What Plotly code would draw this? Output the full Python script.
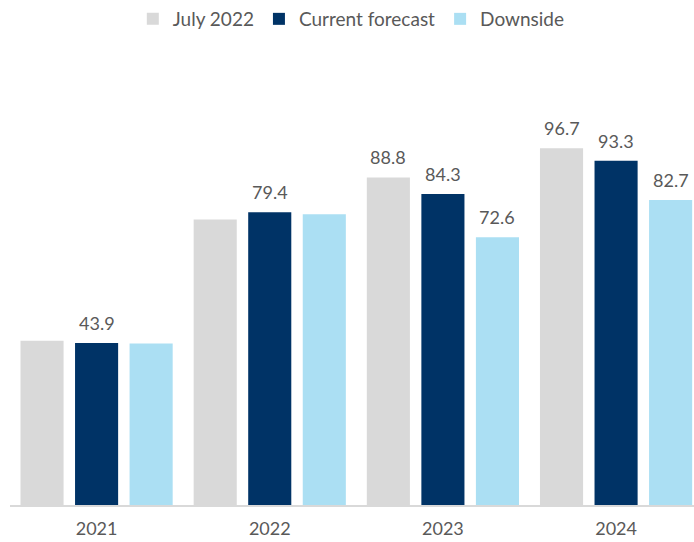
import plotly.graph_objects as go

years = ["2021", "2022", "2023", "2024"]
july_2022 = [44.5, 77.4, 88.8, 96.7]
current_forecast = [43.9, 79.4, 84.3, 93.3]
downside = [43.8, 78.8, 72.6, 82.7]

july_labels = ["", "", "88.8", "96.7"]
current_labels = ["43.9", "79.4", "84.3", "93.3"]
downside_labels = ["", "", "72.6", "82.7"]

series = [
    ("July 2022", july_2022, july_labels, "#d9d9d9"),
    ("Current forecast", current_forecast, current_labels, "#003366"),
    ("Downside", downside, downside_labels, "#abdff3"),
]

FONT = "Lato, Noto Sans, sans-serif"
TXT = "#595959"
bargap = 0.055

fig = go.Figure()
annotations = []
n = len(series)
slot = (1 - bargap) / n
for i, (name, vals, labels, color) in enumerate(series):
    fig.add_trace(go.Bar(
        name=name, x=list(range(len(years))), y=vals,
        marker=dict(color=color, line=dict(width=0)),
        hoverinfo="skip",
    ))
    offset = (i - (n - 1) / 2) * slot
    for j, (v, lab) in enumerate(zip(vals, labels)):
        if lab:
            annotations.append(dict(
                x=j + offset, y=v, xref="x", yref="y", text=lab,
                showarrow=False, yanchor="bottom", xanchor="center",
                yshift=7, font=dict(family=FONT, size=18, color=TXT),
            ))

fig.update_layout(
    width=694, height=542,
    margin=dict(l=10, r=0, t=55, b=37, pad=0),
    barmode="group", bargap=bargap, bargroupgap=0.21,
    plot_bgcolor="white", paper_bgcolor="white",
    font=dict(family=FONT, size=18, color=TXT),
    showlegend=True,
    legend=dict(
        orientation="h", x=0.499, xanchor="center", y=1.0, yanchor="top",
        yref="container", font=dict(family=FONT, size=19, color=TXT),
        itemwidth=30, traceorder="normal", itemclick=False,
    ),
    annotations=annotations,
    xaxis=dict(
        range=[-0.5, 3.45], tickmode="array",
        tickvals=list(range(len(years))), ticktext=years,
        showgrid=False, zeroline=False, showline=True,
        linecolor="#d9d9d9", linewidth=2, ticks="",
        ticklabelstandoff=6,
        tickfont=dict(family=FONT, size=18, color=TXT),
    ),
    yaxis=dict(range=[0, 122], visible=False, showgrid=False, zeroline=False),
)

fig.write_html("out.html")
